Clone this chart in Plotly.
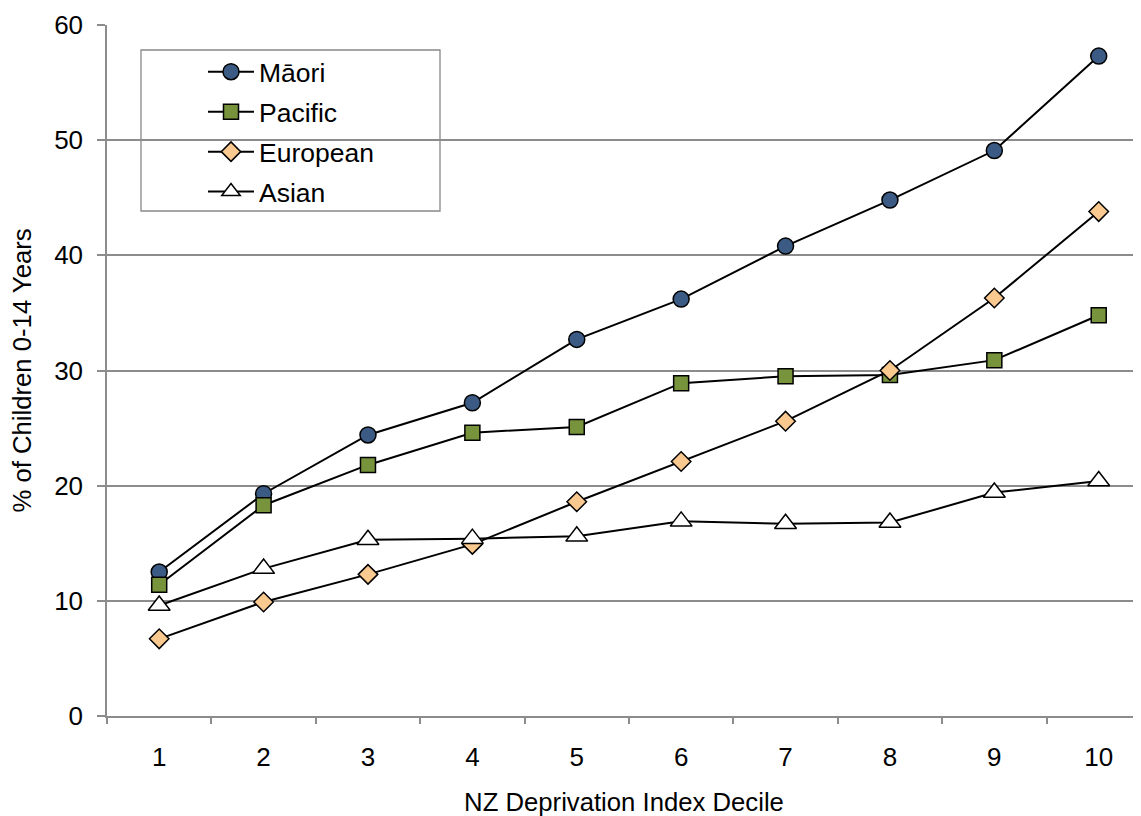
import plotly.graph_objects as go

deciles = [1, 2, 3, 4, 5, 6, 7, 8, 9, 10]
tick_labels = ["1", "2", "3", "4", "5", "6", "7", "8", "9", "10"]
maori = [12.5, 19.3, 24.4, 27.2, 32.7, 36.2, 40.8, 44.8, 49.1, 57.3]
pacific = [11.4, 18.3, 21.8, 24.6, 25.1, 28.9, 29.5, 29.6, 30.9, 34.8]
european = [6.7, 9.9, 12.3, 14.9, 18.6, 22.1, 25.6, 30.0, 36.3, 43.8]
asian = [9.6, 12.8, 15.3, 15.4, 15.6, 16.9, 16.7, 16.8, 19.4, 20.4]

FONT = "Liberation Sans, Arial, sans-serif"

series = [
    ("Māori", maori, "circle", 16, "#3B5B84"),
    ("Pacific", pacific, "square", 15, "#77933C"),
    ("European", european, "diamond", 15, "#FAC98F"),
    ("Asian", asian, "triangle-up", 19, "#FFFFFF"),
]

fig = go.Figure()
for i, (name, vals, sym, size, col) in enumerate(series):
    fig.add_trace(go.Scatter(
        x=deciles, y=vals, name=name, mode="lines+markers",
        line=dict(color="black", width=2),
        marker=dict(symbol=sym, size=size, color=col,
                    line=dict(color="black", width=1.5)),
        legendgroup=f"g{i}",
    ))

# page has an 8px body margin; figure is offset accordingly
PL, PT, PW, PH = 99, 17, 1034, 691

# legend frame
fig.add_shape(type="rect", xref="paper", yref="paper",
              x0=(141 - 107) / PW, x1=(440 - 107) / PW,
              y0=(716 - 211) / PH, y1=(716 - 50) / PH,
              line=dict(color="#888888", width=1.3), fillcolor="white",
              layer="between")

fig.update_layout(
    width=1133, height=808,
    margin=dict(l=PL, r=0, t=PT, b=100),
    paper_bgcolor="white", plot_bgcolor="white",
    font=dict(family=FONT, size=26, color="black"),
    showlegend=True,
    legend=dict(
        x=(203 - 107) / PW, y=(716 - 48) / PH,
        xanchor="left", yanchor="top",
        bgcolor="rgba(0,0,0,0)", borderwidth=0,
        font=dict(family=FONT, size=26.5),
        traceorder="grouped", tracegroupgap=2.5,
        itemwidth=46,
    ),
    xaxis=dict(
        range=[0.5, 10.405], tickvals=deciles, ticktext=tick_labels,
        ticks="", showgrid=False, zeroline=False,
        showline=True, linecolor="#8c8c8c", linewidth=1.5,
        ticklabelstandoff=17,
        tickfont=dict(size=26),
        minor=dict(tickvals=[0.5, 1.5, 2.5, 3.5, 4.5, 5.5, 6.5, 7.5, 8.5, 9.5],
                   ticks="outside", ticklen=6, tickcolor="#8c8c8c",
                   tickwidth=1.5, showgrid=False),
        title=dict(text="NZ Deprivation Index Decile",
                   font=dict(size=25.7), standoff=22),
    ),
    yaxis=dict(
        range=[0, 60], tickvals=[0, 10, 20, 30, 40, 50, 60],
        ticks="outside", ticklen=8, tickcolor="#8c8c8c", tickwidth=1.5,
        showgrid=True, gridcolor="#8c8c8c", gridwidth=1.5,
        zeroline=False, showline=True, linecolor="#8c8c8c", linewidth=1.5,
        ticklabelstandoff=9,
        tickfont=dict(size=26),
        title=dict(text="% of Children 0-14 Years",
                   font=dict(size=25.7), standoff=16),
    ),
)

fig.write_html("out.html")
